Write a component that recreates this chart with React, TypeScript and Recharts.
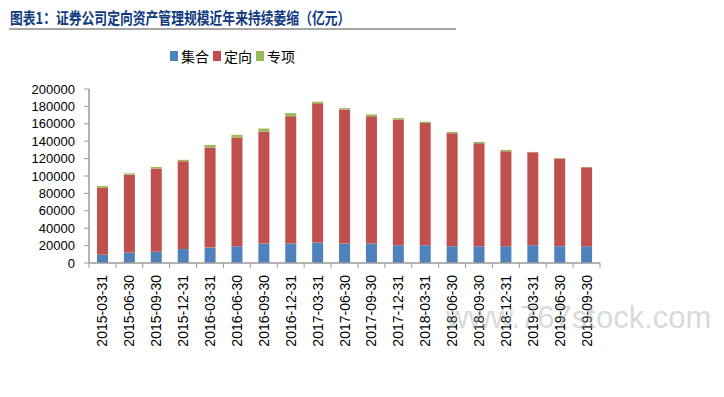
import { BarChart, Bar, XAxis, YAxis } from 'recharts';

const dates = [
  '2015-03-31', '2015-06-30', '2015-09-30', '2015-12-31',
  '2016-03-31', '2016-06-30', '2016-09-30', '2016-12-31',
  '2017-03-31', '2017-06-30', '2017-09-30', '2017-12-31',
  '2018-03-31', '2018-06-30', '2018-09-30', '2018-12-31',
  '2019-03-31', '2019-06-30', '2019-09-30',
];

// 集合
const jihe = [9600, 12000, 13000, 16000, 17700, 19200, 22300, 22300, 23500, 22300, 22300, 20400, 20400, 19200, 19200, 19200, 20400, 19200, 19200];
// 定向
const dingxiang = [76900, 89500, 95500, 101000, 115000, 125000, 128900, 146500, 160000, 154200, 146500, 144600, 140400, 130000, 118500, 109300, 106900, 100800, 90800];
// 专项
const zhuanxiang = [2000, 1500, 1900, 1600, 3000, 3100, 3400, 3500, 1900, 1500, 2000, 1500, 1500, 1500, 1500, 1500, 400, 300, 300];

const yTicks = [0, 20000, 40000, 60000, 80000, 100000, 120000, 140000, 160000, 180000, 200000];

const data = dates.map((d, i) => ({
  date: d,
  jihe: jihe[i],
  dingxiang: dingxiang[i],
  zhuanxiang: zhuanxiang[i],
}));

const BLUE = '#4F81BD';
const RED = '#C0504D';
const GREEN = '#9BBB59';
const AXIS = '#9a9a9a';

const XTick = (props: any) => {
  const { x, y, payload, index } = props;
  const off = payload && payload.offset ? payload.offset : 13.45;
  const last = index === dates.length - 1;
  return (
    <g>
      <line x1={x - off} y1={y} x2={x - off} y2={y + 5} stroke={AXIS} />
      {last && <line x1={x + off} y1={y} x2={x + off} y2={y + 5} stroke={AXIS} />}
      <text
        x={x}
        y={y + 12}
        textAnchor="end"
        dominantBaseline="central"
        transform={`rotate(-90 ${x} ${y + 12})`}
        fontSize={14}
        fontFamily="'Liberation Sans', Arial, sans-serif"
        fill="#000"
      >
        {payload.value}
      </text>
    </g>
  );
};

const legendItems = [
  { name: '集合', color: BLUE, left: 170 },
  { name: '定向', color: RED, left: 213 },
  { name: '专项', color: GREEN, left: 256 },
];

export default function App() {
  return (
    <div style={{ position: 'absolute', left: 0, top: 0, width: 724, height: 397, background: '#fff', overflow: 'hidden' }}>
      <div
        style={{
          position: 'absolute', left: 10, top: 8, whiteSpace: 'nowrap',
          fontFamily: "'Noto Sans CJK SC', sans-serif", fontWeight: 700, fontSize: 16,
          color: '#0f3a80', transform: 'scaleX(0.8)', transformOrigin: 'left top', lineHeight: '18px',
        }}
      >
        图表1：证券公司定向资产管理规模近年来持续萎缩（亿元）
      </div>
      <div style={{ position: 'absolute', left: 9, top: 28, width: 447, height: 2, background: '#a6a6a6' }} />

      {legendItems.map((it) => (
        <div key={it.name} style={{ position: 'absolute', left: it.left, top: 49, display: 'flex', alignItems: 'center' }}>
          <div style={{ width: 8, height: 10, background: it.color, marginRight: 3 }} />
          <span style={{ fontFamily: "'Noto Sans CJK SC', sans-serif", fontSize: 14, color: '#000', lineHeight: '14px' }}>{it.name}</span>
        </div>
      ))}

      <div style={{ position: 'absolute', left: 0, top: 0 }}>
        <BarChart width={724} height={397} data={data} margin={{ top: 89, right: 124, left: 0, bottom: 34 }} barSize={11}>
          <XAxis
            dataKey="date"
            interval={0}
            height={100}
            tickSize={0}
            tickMargin={0}
            tickLine={false}
            axisLine={{ stroke: AXIS, strokeWidth: 1.5 }}
            tick={<XTick />}
          />
          <YAxis
            width={89}
            domain={[0, 200000]}
            ticks={yTicks}
            interval={0}
            tickSize={5}
            tickMargin={9}
            tickLine={{ stroke: AXIS }}
            axisLine={{ stroke: AXIS, strokeWidth: 1.5 }}
            tick={{ fontSize: 13, fill: '#000', fontFamily: "'Liberation Sans', Arial, sans-serif" }}
          />
          <Bar dataKey="jihe" stackId="a" fill={BLUE} isAnimationActive={false} />
          <Bar dataKey="dingxiang" stackId="a" fill={RED} isAnimationActive={false} />
          <Bar dataKey="zhuanxiang" stackId="a" fill={GREEN} isAnimationActive={false} />
        </BarChart>
      </div>

      <div
        style={{
          position: 'absolute', left: 446, top: 300, fontSize: 31, whiteSpace: 'nowrap',
          fontFamily: "'Liberation Sans', Arial, sans-serif", color: 'rgba(170,170,170,0.45)', pointerEvents: 'none',
        }}
      >
        www.767stock.com
      </div>
    </div>
  );
}
